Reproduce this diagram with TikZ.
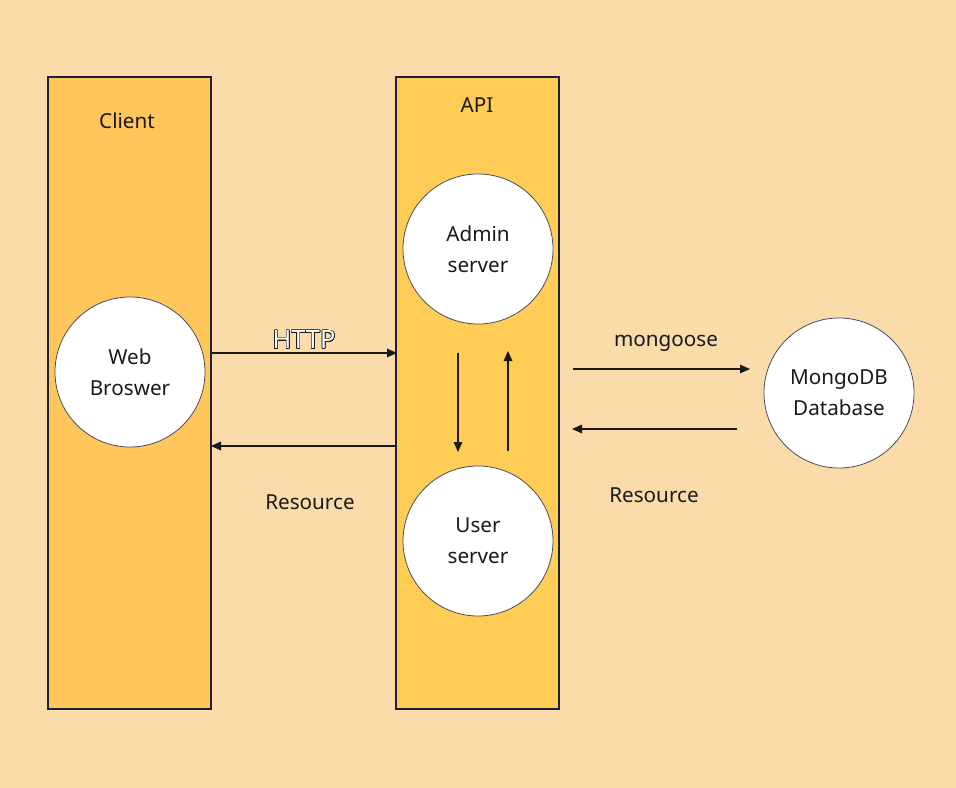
\documentclass[tikz,border=0pt]{standalone}
\usepackage{fontspec}
\setmainfont{Noto Sans}
\usepackage{contour}
\usetikzlibrary{positioning, arrows.meta}
\definecolor{bgcol}{HTML}{FADBA9}
\definecolor{clientcol}{HTML}{FFC65C}
\definecolor{apicol}{HTML}{FFCC55}
\definecolor{edgecol}{HTML}{1E1F3A}
\definecolor{txtcol}{HTML}{1A1A1A}
\contourlength{0.4pt}
\contournumber{32}

\begin{document}
\begin{tikzpicture}[
				x=0.75pt, y=-0.75pt,
				every node/.style={font=\fontsize{15.5}{23}\selectfont, text=txtcol, align=center},
				lane/.style={draw=edgecol, line width=0.8pt, minimum width=122.25pt, minimum height=474pt, inner sep=0pt},
				srv/.style={circle, draw=edgecol!80, line width=0.6pt, fill=white, minimum size=112.5pt, inner sep=0pt},
				flow/.style={draw=txtcol, line width=0.8pt, -{Triangle[length=7.5pt, width=6.5pt]}}
				]
				\useasboundingbox[fill=bgcol] (0,0) rectangle (956,788);
				% columns
				\node (client) [lane, fill=clientcol] at (129.5,393) {};
				\node (api) [lane, fill=apicol] at (477.5,393) {};
				\node at (127,121) {Client};
				\node at (477,105) {API};
				% servers
				\node (web) [srv] at (130,372) {Web\\Broswer};
				\node (admin) [srv] at (478,249) {Admin\\server};
				\node (user) [srv] at (478,541) {User\\server};
				\node (mongo) [srv] at (839,393) {MongoDB\\Database};
				% arrow ends
				\coordinate (h1) at (212,353);
				\coordinate (h2) at (397,353);
				\coordinate (r1) at (396,446);
				\coordinate (r2) at (211,446);
				\coordinate (d1) at (458,353);
				\coordinate (d2) at (458,452);
				\coordinate (u1) at (508,451);
				\coordinate (u2) at (508,351);
				\coordinate (m1) at (573,369);
				\coordinate (m2) at (750,369);
				\coordinate (b1) at (737,429);
				\coordinate (b2) at (572,429);
				\draw[flow] (h1) -- (h2);
				\draw[flow] (r1) -- (r2);
				\draw[flow] (d1) -- (d2);
				\draw[flow] (u1) -- (u2);
				\draw[flow] (m1) -- (m2);
				\draw[flow] (b1) -- (b2);
				% labels
				\node[font=\fontsize{19}{23}\selectfont] at (304,340) {\contour{txtcol}{\textcolor{white}{HTTP}}};
				\node at (310,502) {Resource};
				\node at (666,343) {mongoose};
				\node at (654,495) {Resource};
			\end{tikzpicture}
\end{document}
